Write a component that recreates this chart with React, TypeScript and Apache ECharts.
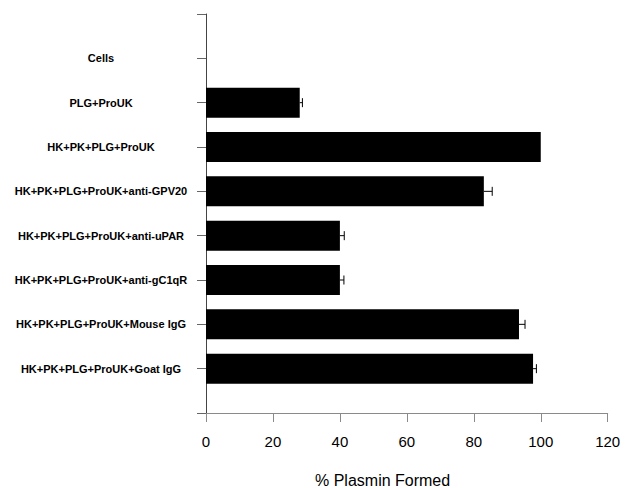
import React, { useEffect, useRef } from "react";
import * as echarts from "echarts";

const categories = [
  "Cells",
  "PLG+ProUK",
  "HK+PK+PLG+ProUK",
  "HK+PK+PLG+ProUK+anti-GPV20",
  "HK+PK+PLG+ProUK+anti-uPAR",
  "HK+PK+PLG+ProUK+anti-gC1qR",
  "HK+PK+PLG+ProUK+Mouse IgG",
  "HK+PK+PLG+ProUK+Goat IgG",
];
const values = [0, 28, 100, 83, 40, 40, 93.5, 97.7];
const errors = [0, 0.8, 0, 2.5, 1.3, 1.2, 1.8, 1.0];
const xTicks = { min: 0, max: 120, interval: 20 };
const axisTitle = "% Plasmin Formed";

export default function App() {
  const ref = useRef<HTMLDivElement>(null);
  useEffect(() => {
    if (!ref.current) return;
    const chart = echarts.init(ref.current, null, { renderer: "svg" });
    const axisCats = ["", ...categories, ""];
    const barData: any[] = ["-", ...values.map((v) => (v > 0 ? v : "-")), "-"];
    const errData = values.map((v, i) => [v, i + 1, errors[i]]).filter((d) => d[2] > 0);
    const font = "'Liberation Sans', Arial, Helvetica, sans-serif";
    chart.setOption({
      animation: false,
      backgroundColor: "#fff",
      grid: { left: 206, right: 20.3, top: 14, bottom: 75, containLabel: false },
      xAxis: {
        type: "value",
        min: xTicks.min,
        max: xTicks.max,
        interval: xTicks.interval,
        splitLine: { show: false },
        axisLine: { show: true, lineStyle: { color: "#8a8a8a", width: 1 } },
        axisTick: { show: true, inside: false, length: 9, lineStyle: { color: "#8a8a8a" } },
        axisLabel: { color: "#000", fontSize: 15, fontFamily: font, margin: 21 },
      },
      yAxis: {
        type: "category",
        data: axisCats,
        inverse: true,
        boundaryGap: false,
        axisLine: { show: true, lineStyle: { color: "#444", width: 1 } },
        axisTick: { show: true, inside: false, length: 9, interval: 0, lineStyle: { color: "#666" } },
        axisLabel: {
          interval: 0,
          align: "center",
          margin: 105,
          color: "#000",
          fontSize: 11,
          fontWeight: "bold",
          fontFamily: font,
        },
      },
      graphic: [
        {
          type: "text",
          left: 389 - 74,
          top: 472,
          style: { text: axisTitle, fontSize: 16, fontFamily: font, fill: "#000" },
        },
      ],
      series: [
        {
          type: "bar",
          data: barData,
          barWidth: 30,
          itemStyle: { color: "#000" },
        },
        {
          type: "custom",
          data: errData,
          encode: { x: 0, y: 1 },
          renderItem: (params: any, api: any) => {
            const v = api.value(0);
            const c = api.value(1);
            const e = api.value(2);
            const p0 = api.coord([v, c]);
            const p1 = api.coord([v + e, c]);
            const h = 4.5;
            const st = { stroke: "#000", lineWidth: 1 };
            return {
              type: "group",
              children: [
                { type: "line", shape: { x1: p0[0], y1: p0[1], x2: p1[0], y2: p1[1] }, style: st },
                { type: "line", shape: { x1: p1[0], y1: p1[1] - h, x2: p1[0], y2: p1[1] + h }, style: st },
              ],
            };
          },
          z: 3,
        },
      ],
    });
    return () => chart.dispose();
  }, []);
  return (
    <div
      ref={ref}
      style={{ position: "fixed", left: 0, top: 0, width: 628, height: 488, background: "#fff" }}
    />
  );
}
